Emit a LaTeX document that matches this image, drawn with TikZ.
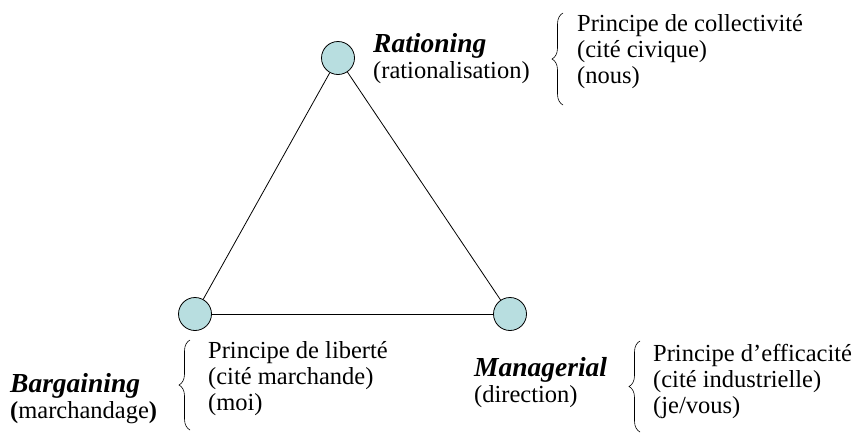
\documentclass[tikz,border=0pt]{standalone}
\usepackage{fontspec}
\setmainfont{Liberation Serif}
\usetikzlibrary{decorations.pathreplacing}
\definecolor{vertexfill}{RGB}{184,222,224}
\newcommand{\labname}[1]{{\fontsize{27.5}{26}\selectfont\bfseries\itshape #1}}
\tikzset{
  vertex/.style={circle,draw,line width=0.8pt,fill=vertexfill,minimum size=33pt,inner sep=0pt},
  label/.style={anchor=base west,align=left,inner sep=0pt},
  principle/.style={anchor=base west,align=left,inner sep=0pt},
  bracket/.style={decorate,decoration={brace,amplitude=11pt},line width=0.6pt}
}
\begin{document}
\begin{tikzpicture}[x=1pt,y=-1pt,font=\fontsize{24.5}{26}\selectfont]
    \useasboundingbox (0,0) rectangle (859,432);
    %% vertices
    \node[vertex] (rat) at (338,58) {};
    \node[vertex] (bar) at (195,314) {};
    \node[vertex] (man) at (510,314) {};
    %% edges
    \draw[line width=0.8pt] (rat) -- (bar);
    \draw[line width=0.8pt] (rat) -- (man);
    \draw[line width=0.8pt] (bar) -- (man);
    %% names (anchored on the last line)
    \node[label] (ratname) at (373,78) {\labname{Rationing}\\(rationalisation)};
    \node[label] (barname) at (10,418) {\labname{Bargaining}\\\textbf{(}marchandage\textbf{)}};
    \node[label] (manname) at (474,402) {\labname{Managerial}\\(direction)};
    %% principles
    \draw[bracket] (563,105) -- (563,13);
    \node[principle] (ratprin) at (577,83) {Principe de collectivité\\(cité civique)\\(nous)};
    \draw[bracket] (190,430) -- (190,340);
    \node[principle] (barprin) at (208,410) {Principe de liberté\\(cité marchande)\\(moi)};
    \draw[bracket] (640,432) -- (640,341);
    \node[principle] (manprin) at (653,413) {Principe d’efficacité\\(cité industrielle)\\(je/vous)};
\end{tikzpicture}
\end{document}
